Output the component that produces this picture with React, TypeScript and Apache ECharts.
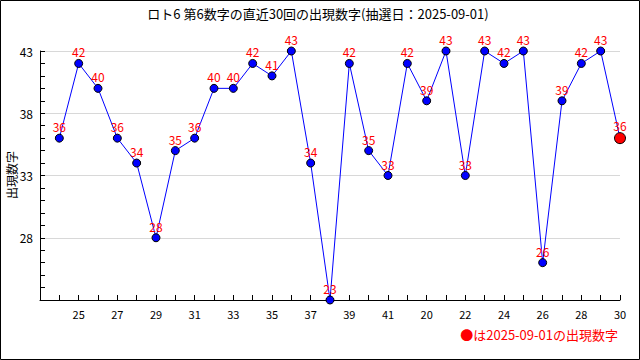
import React, { useEffect, useRef } from "react";
import * as echarts from "echarts";

const titleText = "ロト6 第6数字の直近30回の出現数字(抽選日：2025-09-01)";
const yAxisName = "出現数字";
const noteText = "●は2025-09-01の出現数字";
const drawLabels = [
  "24", "25", "26", "27", "28", "29", "30", "31", "32", "33",
  "34", "35", "36", "37", "38", "39", "40", "41", "19", "20",
  "21", "22", "23", "24", "25", "26", "27", "28", "29", "30",
];
const values = [
  36, 42, 40, 36, 34, 28, 35, 36, 40, 40,
  42, 41, 43, 34, 23, 42, 35, 33, 42, 39,
  43, 33, 43, 42, 43, 26, 39, 42, 43, 36,
];
const yMin = 23;
const yMax = 43;

const FONT = "'Noto Sans CJK JP', 'Noto Sans', sans-serif";

export default function App() {
  const ref = useRef<HTMLDivElement>(null);
  useEffect(() => {
    if (!ref.current) return;
    const chart = echarts.init(ref.current, null, { renderer: "svg" });
    const last = values.length - 1;
    const data = values.map((v, i) => {
      const item: any = { value: [i + 1, v] };
      if (i === last) {
        item.symbolSize = 11;
        item.itemStyle = { color: "#ff0000", borderColor: "#000", borderWidth: 1 };
      }
      return item;
    });
    chart.setOption({
      animation: false,
      backgroundColor: "#ffffff",
      textStyle: { fontFamily: FONT },
      grid: {
        left: 40,
        right: 20,
        top: 51,
        bottom: 60,
        containLabel: false,
        outerBoundsMode: "none",
      },
      graphic: [
        {
          type: "rect",
          shape: { x: 0.5, y: 0.5, width: 639, height: 359 },
          style: { fill: "none", stroke: "#000", lineWidth: 1 },
          silent: true,
        },
        {
          type: "text",
          x: 318,
          y: 13,
          style: {
            text: titleText,
            fill: "#000",
            font: `13px ${FONT}`,
            align: "center",
            verticalAlign: "middle",
          },
        },
        {
          type: "text",
          x: 11,
          y: 175,
          rotation: Math.PI / 2,
          style: {
            text: yAxisName,
            fill: "#000",
            font: `12px ${FONT}`,
            align: "center",
            verticalAlign: "middle",
          },
        },
        {
          type: "text",
          x: 618,
          y: 334,
          style: {
            text: noteText,
            fill: "#ff0000",
            font: `13px ${FONT}`,
            align: "right",
            verticalAlign: "middle",
          },
        },
      ],
      xAxis: {
        type: "value",
        min: 0,
        max: values.length,
        interval: 1,
        axisLine: { show: true, lineStyle: { color: "#000", width: 1 } },
        axisTick: { show: true, inside: true, length: 5, lineStyle: { color: "#000" } },
        splitLine: { show: false },
        axisLabel: {
          color: "#000",
          fontSize: 11,
          fontFamily: FONT,
          margin: 8,
          showMinLabel: true,
          showMaxLabel: true,
          formatter: (v: number) =>
            v > 0 && v % 2 === 0 ? drawLabels[v - 1] : "",
        },
      },
      yAxis: {
        type: "value",
        min: yMin,
        max: yMax,
        interval: 5,
        axisLine: { show: true, lineStyle: { color: "#000", width: 1 } },
        axisTick: { show: true, inside: true, length: 5, lineStyle: { color: "#000" } },
        minorTick: { show: true, splitNumber: 5, length: 5, lineStyle: { color: "#000" } },
        splitLine: { show: true, lineStyle: { color: "#d8d8d8", width: 1 } },
        axisLabel: {
          color: "#000",
          fontSize: 12,
          fontFamily: FONT,
          margin: 7,
          formatter: (v: number) => (v === yMin ? "" : String(v)),
        },
      },
      series: [
        {
          type: "line",
          data,
          symbol: "circle",
          symbolSize: 8,
          showAllSymbol: true,
          clip: false,
          lineStyle: { color: "#0000ff", width: 1 },
          itemStyle: { color: "#0000ff", borderColor: "#000", borderWidth: 1 },
          label: {
            show: true,
            position: "top",
            distance: 1,
            color: "#ff0000",
            fontSize: 12,
            fontFamily: FONT,
            formatter: (p: any) => String(p.value[1]),
          },
          emphasis: { disabled: true },
        },
      ],
    });
    return () => chart.dispose();
  }, []);
  return (
    <div
      ref={ref}
      style={{ position: "fixed", left: 0, top: 0, width: 640, height: 360 }}
    />
  );
}
